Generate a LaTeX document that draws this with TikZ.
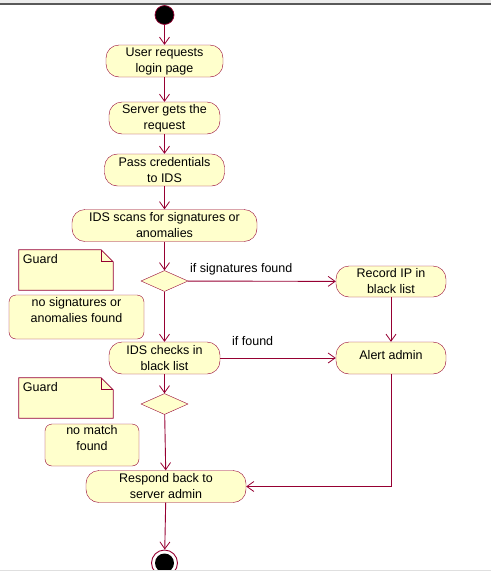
\documentclass[tikz,border=0pt]{standalone}
\usepackage{fontspec}
\setmainfont{Liberation Sans}
\usetikzlibrary{arrows.meta,shapes.geometric}
\definecolor{lc}{RGB}{150,0,50}
\definecolor{fc}{RGB}{255,255,204}
\tikzset{
  base/.style={font=\fontsize{12.5}{16}\selectfont},
  act/.style={base,draw=lc,fill=fc,rounded corners=13pt,minimum height=32pt,align=center,inner sep=0pt},
  dec/.style={diamond,draw=lc,fill=fc,minimum width=47pt,minimum height=21pt,inner sep=0pt},
  guardnote/.style={base,minimum width=94pt,minimum height=40pt,inner sep=0pt},
  remark/.style={base,draw=lc,fill=fc,rounded corners=7pt,align=center,inner sep=0pt},
  flow/.style={draw=lc,line width=0.9pt,-{Straight Barb[length=7pt,width=10pt,line width=0.8pt]}},
  lbl/.style={base,inner sep=0pt}
}
\begin{document}
\begin{tikzpicture}[x=1pt,y=-1pt]
\useasboundingbox (0,0) rectangle (491,571);
% screenshot borders
\fill[gray!15] (0,0) rectangle (491,3);
\draw[gray!70!black,line width=1.5pt] (0,4) -- (491,4);
\begin{scope}
\clip (0,5) rectangle (491,570);
% start / end
\node[circle,fill=black,draw=lc,line width=0.7pt,minimum size=19pt,inner sep=0pt] (start) at (164.5,15) {};
\node[circle,draw=lc,line width=0.9pt,minimum size=26pt,inner sep=0pt] (stop) at (164.5,563) {};
\node[circle,fill=black,minimum size=19pt,inner sep=0pt] at (stop) {};
% activities
\node[act,minimum width=117pt] (n1) at (164.5,61) {User requests\\login page};
\node[act,minimum width=111pt] (n2) at (164.5,118) {Server gets the\\request};
\node[act,minimum width=120pt] (n3) at (164.5,170) {Pass credentials\\to IDS};
\node[act,minimum width=185pt] (n4) at (164.5,225.5) {IDS scans for signatures or\\anomalies};
\node[dec] (d1) at (164.5,281) {};
\node[act,minimum width=111pt] (n5) at (164.5,358) {IDS checks in\\black list};
\node[dec] (d2) at (164.5,404) {};
\node[act,minimum width=160pt] (n6) at (166,486.5) {Respond back to\\server admin};
\node[act,minimum width=110pt,minimum height=31pt] (rec) at (391,281.5) {Record IP in\\black list};
\node[act,minimum width=110pt] (alert) at (391,358) {\raisebox{7pt}{Alert admin}};
% guard notes
\node[guardnote] (g1) at (66,270) {};
\draw[lc,fill=fc,line width=0.8pt] (g1.north west) -- ([xshift=-12pt]g1.north east) -- ([yshift=-12pt]g1.north east) -- (g1.south east) -- (g1.south west) -- cycle;
\draw[lc,line width=0.8pt] ([xshift=-12pt]g1.north east) -- ([xshift=-12pt,yshift=-12pt]g1.north east) -- ([yshift=-12pt]g1.north east);
\node[lbl,anchor=north west] (g1t) at ([xshift=4pt,yshift=-4pt]g1.north west) {Guard};
\node[guardnote] (g2) at (66,398) {};
\draw[lc,fill=fc,line width=0.8pt] (g2.north west) -- ([xshift=-12pt]g2.north east) -- ([yshift=-12pt]g2.north east) -- (g2.south east) -- (g2.south west) -- cycle;
\draw[lc,line width=0.8pt] ([xshift=-12pt]g2.north east) -- ([xshift=-12pt,yshift=-12pt]g2.north east) -- ([yshift=-12pt]g2.north east);
\node[lbl,anchor=north west] (g2t) at ([xshift=4pt,yshift=-4pt]g2.north west) {Guard};
% remarks
\node[remark,minimum width=135pt,minimum height=44pt] (r1) at (76.5,317) {no signatures or\\anomalies found\\[-2pt]};
\node[remark,minimum width=94pt,minimum height=42pt] (r2) at (92,445) {no match\\found\\[-2pt]};
% flows
\draw[flow] (start) -- (n1);
\draw[flow] (n1) -- (n2);
\draw[flow] (n2) -- (n3);
\draw[flow] (n3) -- (n4);
\draw[flow] (n4) -- (d1);
\draw[flow] (d1) -- (rec);
\node[lbl,anchor=west] (l1) at (190,269) {if signatures found};
\draw[flow] (d1) -- (n5);
\draw[flow] (rec) -- (alert);
\draw[flow] (n5) -- (alert);
\node[lbl,anchor=west] (l2) at (232,341) {if found};
\draw[flow] (n5) -- (d2);
\draw[flow] (d2) -- (n6);
\draw[flow] (alert.south) |- (n6.east);
\draw[flow] (n6) -- (stop);
\end{scope}
\draw[gray!25,line width=1pt] (0,570.5) -- (491,570.5);
\end{tikzpicture}
\end{document}
